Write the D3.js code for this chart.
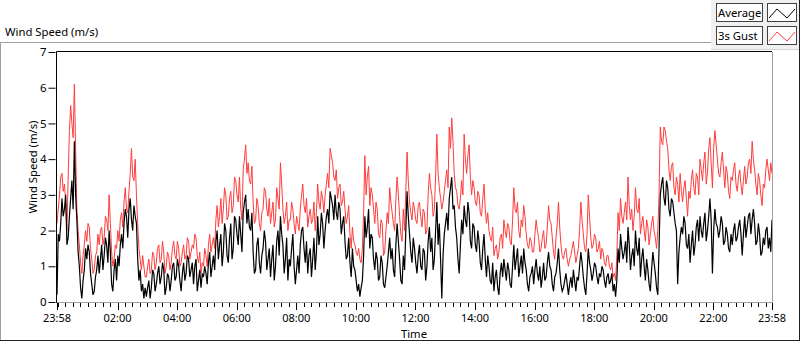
<!DOCTYPE html>
<html lang="en">
<head>
<meta charset="utf-8">
<title>Wind Speed</title>
<script src="https://d3js.org/d3.v7.min.js"></script>
<style>
  body { margin: 0; background: #fff; }
  svg { display: block; font-family: "Noto Sans", "Open Sans", sans-serif; }
</style>
</head>
<body>
<svg id="chart" width="800" height="342"></svg>
<script>
// samples every 2.5 minutes from 23:58 to 23:58 next day, one row per hour
var avgSpeed = [
  0.2,1.9,1.7,2.2,2.9,2.4,2.6,3.0,1.6,1.8,2.4,2.9,3.4,2.6,4.5,3.0,2.3,1.4,1.0,0.4,0.1,0.6,0.9,1.5,
  1.2,1.6,1.4,0.8,0.5,0.2,0.3,0.7,0.9,1.3,0.8,1.2,1.6,0.9,1.3,1.8,1.6,1.1,2.0,1.4,0.5,0.3,0.9,1.2,
  0.6,1.3,1.0,1.6,1.9,1.5,2.2,2.6,2.4,1.8,2.6,2.9,2.3,2.0,2.7,2.4,2.2,1.2,0.6,0.9,0.3,0.5,0.1,0.4,
  0.15,0.4,0.6,0.1,0.4,0.9,0.8,0.3,0.5,0.8,1.0,0.5,0.7,1.1,0.9,0.2,0.4,0.8,0.7,0.3,0.6,1.0,1.1,0.6,
  0.7,1.2,1.0,0.6,0.3,0.8,1.1,0.6,0.8,1.3,1.2,0.7,0.9,1.1,0.5,1.0,1.2,0.3,0.6,0.9,0.4,0.8,0.7,1.0,
  0.8,0.5,1.1,1.4,0.7,1.0,1.3,0.9,1.7,2.0,1.2,1.6,1.9,1.0,1.4,2.2,2.0,1.3,1.1,1.8,2.2,1.2,1.5,2.4,
  2.3,1.9,1.6,2.4,1.9,1.4,2.5,2.8,3.0,2.2,2.6,2.1,2.0,2.5,1.4,0.8,0.9,1.6,1.8,1.1,0.8,1.3,1.5,2.0,
  1.7,0.9,1.2,1.5,0.7,1.2,1.6,0.6,1.0,1.7,2.0,1.3,2.4,1.9,1.6,0.8,1.2,1.8,0.6,1.2,1.0,1.5,1.9,1.0,
  0.5,0.9,1.3,0.8,1.6,2.0,2.1,1.5,1.1,1.7,0.8,1.3,1.5,0.7,1.2,1.8,0.9,1.4,2.4,1.6,1.9,2.5,2.2,1.5,
  2.0,2.4,2.6,2.2,3.1,2.9,2.7,2.3,3.0,2.5,2.3,2.8,2.6,1.9,2.2,2.4,1.7,1.2,1.3,1.8,1.1,0.7,1.5,1.0,
  0.9,0.6,0.3,0.5,0.15,0.4,0.6,1.3,2.4,1.8,2.1,2.6,1.5,1.9,1.8,1.2,0.9,1.4,1.2,0.6,0.7,1.3,1.1,0.5,
  0.4,0.7,1.0,1.4,1.8,1.2,1.5,0.9,0.7,1.6,2.2,1.7,1.2,0.6,0.5,1.3,0.9,2.0,3.1,2.4,1.9,1.4,1.1,1.8,
  1.5,1.1,0.8,1.3,1.6,1.0,0.9,1.5,1.4,0.6,1.0,1.7,2.1,1.4,1.8,0.9,1.2,2.0,2.8,1.6,2.2,1.2,0.1,1.3,
  1.9,2.2,2.5,2.0,2.9,3.2,3.5,2.6,2.7,2.1,1.8,1.2,0.8,1.6,2.3,1.9,2.7,2.3,2.1,2.8,2.5,1.7,1.5,2.2,
  2.1,1.6,1.4,2.0,1.7,1.1,0.9,1.5,1.9,1.2,0.7,1.3,1.0,0.6,0.5,1.1,0.3,0.7,0.9,0.4,0.2,0.8,1.1,0.7,
  1.2,0.9,0.6,1.1,0.9,0.5,0.4,1.0,1.6,0.9,1.2,1.5,0.7,1.0,1.3,0.8,1.5,1.1,0.9,0.5,0.3,0.7,0.8,1.0,
  0.5,0.9,1.2,0.8,0.6,1.0,0.4,0.7,1.1,0.6,0.7,1.1,1.4,1.0,0.9,0.5,0.3,0.7,0.8,1.1,1.5,0.9,0.5,0.3,
  0.4,0.6,0.8,0.5,0.2,0.5,0.7,0.4,0.9,0.6,0.3,0.7,0.6,1.0,1.4,1.1,0.7,0.4,0.2,0.8,1.5,1.1,0.9,0.6,
  0.8,1.1,1.0,0.7,0.5,0.8,0.7,1.0,0.9,0.6,0.4,0.7,0.8,0.5,0.6,0.8,0.3,0.5,0.15,0.6,1.5,1.1,1.9,1.5,
  1.2,1.4,1.7,1.1,2.1,1.6,0.9,1.3,1.5,1.0,2.0,1.5,1.3,1.8,0.7,1.2,1.5,1.0,0.6,1.2,0.9,0.5,0.3,0.9,
  1.4,1.1,0.8,0.4,0.2,1.5,3.0,3.3,3.5,2.9,2.7,3.4,3.2,2.6,2.4,2.9,2.8,2.5,2.2,2.0,0.5,1.4,1.8,2.1,
  1.9,2.4,2.2,1.6,1.5,1.9,1.1,1.6,2.0,1.3,1.6,2.1,2.3,1.7,2.4,2.0,1.8,2.2,2.5,1.7,2.0,2.4,2.9,2.3,
  0.8,2.0,2.6,2.2,2.1,1.8,2.0,2.4,2.2,1.6,1.7,2.1,1.9,1.5,1.4,1.9,1.6,2.0,2.2,1.7,1.8,2.1,2.3,1.9,
  1.3,1.9,2.4,1.8,2.1,2.4,2.5,1.9,2.3,2.6,2.2,1.6,1.7,2.2,1.9,1.3,1.4,1.8,1.6,2.0,2.1,1.5,1.8,1.4,
  2.3
];
var gustSpeed = [
  2.2,2.6,3.0,3.5,3.6,3.1,3.3,2.8,2.0,3.5,4.8,5.5,5.0,4.6,6.1,4.3,2.6,2.0,1.6,1.1,0.8,1.3,1.6,2.0,
  1.7,2.2,2.1,1.5,1.2,0.8,0.9,1.3,1.4,1.9,1.6,2.0,2.1,1.6,1.8,2.4,2.3,2.0,3.0,2.2,1.4,1.0,1.2,1.6,
  1.5,2.0,1.7,2.3,2.5,2.1,2.8,3.2,2.6,2.5,3.1,3.6,4.3,3.5,3.4,4.0,3.0,2.2,1.5,1.2,0.9,1.3,1.0,0.7,
  0.7,1.0,1.2,0.8,0.9,1.4,1.3,0.9,1.1,1.5,1.6,1.1,1.2,1.7,1.4,0.8,1.0,1.4,1.3,0.9,1.1,1.5,1.7,1.3,
  1.2,1.7,1.5,1.0,1.1,1.4,1.6,1.2,1.3,1.8,1.7,1.2,1.4,1.6,1.5,1.9,1.8,1.3,1.1,1.4,0.8,1.1,1.0,1.5,
  1.3,1.0,1.6,1.9,1.4,1.6,1.8,1.5,2.3,2.7,2.1,2.4,2.9,2.2,2.6,3.2,3.0,2.3,2.4,2.9,3.1,2.5,2.7,3.5,
  3.4,3.0,2.8,3.5,2.6,2.3,3.7,4.0,4.4,3.6,3.9,3.4,3.3,3.8,2.8,2.2,2.3,2.9,2.7,2.2,2.0,2.5,2.6,3.2,
  3.1,2.6,2.4,2.9,2.2,2.5,2.8,2.1,2.3,3.2,2.9,2.6,3.9,3.3,2.6,2.2,2.4,2.8,2.0,2.3,2.3,2.8,2.6,2.2,
  1.9,2.4,2.2,2.0,2.6,3.0,3.3,2.7,2.5,2.9,2.1,2.4,2.6,2.2,2.3,2.8,2.0,2.5,3.3,2.8,2.6,3.1,2.9,2.5,
  3.0,3.3,3.6,3.2,4.3,4.1,3.9,3.5,3.4,3.7,2.9,3.2,3.3,2.7,2.8,3.1,2.6,2.2,2.4,2.7,1.9,1.5,2.1,1.7,
  1.6,1.4,1.3,1.5,1.2,1.1,1.5,2.5,4.1,3.0,3.5,3.8,2.7,3.2,3.0,2.6,2.2,2.8,2.6,1.9,1.8,2.3,2.2,1.3,
  1.4,2.0,2.5,2.2,3.2,2.8,2.5,2.2,2.0,2.9,3.5,3.0,2.4,1.9,1.7,2.6,2.0,3.1,4.2,3.4,2.8,2.5,2.3,2.8,
  2.6,2.3,2.2,2.7,2.8,2.4,2.1,2.6,2.5,1.9,2.0,3.0,3.6,3.2,3.0,2.4,2.6,3.5,4.7,3.6,3.2,2.9,2.6,2.8,
  3.1,3.4,3.7,3.2,4.9,4.3,5.15,4.5,3.6,3.2,3.1,2.7,2.6,2.9,3.4,3.0,4.7,4.0,3.6,4.1,4.4,3.5,3.0,3.4,
  3.2,2.8,2.7,3.1,3.0,2.5,2.4,2.9,3.3,2.6,2.2,2.5,2.0,1.8,1.7,2.1,1.3,1.5,1.6,1.2,1.4,1.8,1.9,1.5,
  2.3,2.0,1.8,2.2,2.1,1.7,1.6,2.3,3.2,2.6,2.5,2.8,2.0,1.8,2.3,2.1,2.7,2.4,1.9,1.6,1.5,1.8,1.7,1.4,
  1.4,1.9,2.3,2.0,1.8,1.4,1.5,1.8,2.0,1.5,1.6,2.1,2.7,2.3,2.2,1.8,1.4,1.2,1.8,2.2,2.8,2.1,1.6,1.3,
  1.2,1.4,1.5,1.2,1.0,1.2,1.3,1.5,1.7,1.4,1.1,1.3,1.5,2.0,2.8,2.3,1.9,1.5,1.4,1.9,3.0,2.4,1.8,1.5,
  1.6,1.9,1.8,1.4,1.5,1.7,1.2,1.5,1.4,1.1,1.0,1.3,1.3,1.0,0.9,1.1,0.7,0.8,0.6,1.3,2.5,2.0,2.9,2.4,
  2.2,2.5,2.8,2.3,3.5,2.7,2.3,2.6,2.0,2.4,3.2,2.6,2.5,2.9,1.9,2.2,2.4,2.0,1.7,2.3,2.1,1.6,1.9,2.2,
  2.4,2.0,1.8,1.5,2.0,3.0,4.9,4.5,4.4,4.9,4.8,4.5,4.3,3.7,3.4,3.8,3.9,3.2,3.0,3.5,3.3,2.8,3.6,3.1,
  2.8,3.2,3.4,2.9,2.4,3.1,2.9,3.4,3.7,3.2,3.0,3.6,3.5,3.0,4.0,3.7,3.4,3.9,4.2,3.3,3.6,4.3,4.6,3.9,
  3.2,4.3,4.8,4.4,4.0,3.6,3.5,3.9,4.2,3.7,3.2,3.8,3.6,3.1,2.9,3.5,3.4,3.7,3.9,3.3,3.1,3.5,3.7,3.3,
  3.0,3.4,3.8,3.3,3.5,3.9,4.0,3.6,4.5,4.0,3.7,3.3,3.0,3.6,3.4,3.0,2.7,3.3,3.2,3.7,4.0,3.7,3.4,3.9,
  3.6
];
var seriesNames = ["Average", "3s Gust"];
var seriesColors = ["#000000", "#ff3c3c"];
var yTicks = [0, 1, 2, 3, 4, 5, 6, 7];
var xLabels = ["23:58","02:00","04:00","06:00","08:00","10:00","12:00",
               "14:00","16:00","18:00","20:00","22:00","23:58"];

var svg = d3.select("#chart");
var plot = {left: 57, top: 52, right: 772, bottom: 302};

var t0 = new Date(2020, 0, 1, 23, 58);
var t1 = new Date(2020, 0, 2, 23, 58);
var stepMs = 2.5 * 60000;

var x = d3.scaleTime().domain([t0, t1]).range([plot.left, plot.right]);
var y = d3.scaleLinear().domain([0, 7]).range([plot.bottom, plot.top]);

// outer frame
svg.append("line").attr("x1", 0).attr("x2", 711).attr("y1", 42.5).attr("y2", 42.5).attr("stroke", "#a0a0a0");
svg.append("line").attr("x1", 0.5).attr("x2", 0.5).attr("y1", 42).attr("y2", 341).attr("stroke", "#a0a0a0");
svg.append("line").attr("x1", 0).attr("x2", 800).attr("y1", 340.5).attr("y2", 340.5).attr("stroke", "#202020");
svg.append("line").attr("x1", 799.5).attr("x2", 799.5).attr("y1", 0).attr("y2", 341).attr("stroke", "#202020");

// title
svg.append("text").attr("x", 5).attr("y", 36).attr("font-size", 11.3).text("Wind Speed (m/s)");

// plot area
svg.append("rect").attr("x", plot.left).attr("y", plot.top)
  .attr("width", plot.right - plot.left).attr("height", plot.bottom - plot.top).attr("fill", "#fff");

// y axis
var yAxis = d3.axisLeft(y).tickValues(yTicks).tickSize(7).tickPadding(2).tickFormat(d3.format("d"));
var gy = svg.append("g").attr("transform", "translate(" + (plot.left - 1.5) + ",0)").call(yAxis);
gy.select(".domain").remove();
gy.selectAll("text").attr("font-size", 11.5).attr("font-family", "Noto Sans").attr("fill", "#000");

// x axis: minor ticks every 15 minutes, major every 2 hours
var minor = d3.timeMinute.every(15).range(t0, t1);
var major = [t0].concat(d3.timeHour.every(2).range(new Date(2020, 0, 2, 0, 30), t1)).concat([t1]);
var gx = svg.append("g");
gx.selectAll("line.minor").data(minor).enter().append("line")
  .attr("x1", function(d){ return Math.round(x(d)) + 0.5; })
  .attr("x2", function(d){ return Math.round(x(d)) + 0.5; })
  .attr("y1", plot.bottom + 1).attr("y2", plot.bottom + 5).attr("stroke", "#000");
gx.selectAll("line.major").data(major).enter().append("line")
  .attr("x1", function(d){ return Math.round(x(d)) + 0.5; })
  .attr("x2", function(d){ return Math.round(x(d)) + 0.5; })
  .attr("y1", plot.bottom + 1).attr("y2", plot.bottom + 8).attr("stroke", "#000");
gx.selectAll("text").data(major).enter().append("text")
  .attr("x", function(d){ return x(d); })
  .attr("y", 322).attr("text-anchor", "middle").attr("font-size", 11)
  .text(function(d, i){ return xLabels[i]; });

// series
var line = d3.line()
  .x(function(d, i){ return x(new Date(t0.getTime() + i * stepMs)); })
  .y(function(d){ return y(d); });
svg.append("clipPath").attr("id", "clip").append("rect")
  .attr("x", plot.left).attr("y", plot.top).attr("width", plot.right - plot.left).attr("height", plot.bottom - plot.top);
var lines = svg.append("g").attr("clip-path", "url(#clip)");
lines.append("path").datum(gustSpeed).attr("d", line)
  .attr("fill", "none").attr("stroke", seriesColors[1]).attr("stroke-width", 1);
lines.append("path").datum(avgSpeed).attr("d", line)
  .attr("fill", "none").attr("stroke", seriesColors[0]).attr("stroke-width", 1.2);

// plot border: dark top/left, grey bottom/right
svg.append("line").attr("x1", plot.left - 0.5).attr("x2", plot.right).attr("y1", plot.top - 0.5).attr("y2", plot.top - 0.5).attr("stroke", "#000");
svg.append("line").attr("x1", plot.left - 0.5).attr("x2", plot.left - 0.5).attr("y1", plot.top - 0.5).attr("y2", plot.bottom + 1).attr("stroke", "#000");
svg.append("line").attr("x1", plot.left).attr("x2", plot.right + 1).attr("y1", plot.bottom + 0.5).attr("y2", plot.bottom + 0.5).attr("stroke", "#a0a0a0");
svg.append("line").attr("x1", plot.right + 0.5).attr("x2", plot.right + 0.5).attr("y1", plot.top).attr("y2", plot.bottom + 1).attr("stroke", "#a0a0a0");

// axis titles
svg.append("text").attr("x", 414).attr("y", 338).attr("text-anchor", "middle").attr("font-size", 11.3).text("Time");
svg.append("text").attr("transform", "translate(37,167) rotate(-90)")
  .attr("text-anchor", "middle").attr("font-size", 11.3).text("Wind Speed (m/s)");

// legend
var lg = svg.append("g");
lg.append("rect").attr("x", 711).attr("y", 0).attr("width", 88).attr("height", 49).attr("fill", "#f0f0f0");
lg.append("line").attr("x1", 711).attr("x2", 799).attr("y1", 49.5).attr("y2", 49.5).attr("stroke", "#d4d4d4");
seriesNames.forEach(function(name, i) {
  var top = 3 + i * 23;
  lg.append("rect").attr("x", 716.5).attr("y", top + 0.5).attr("width", 46).attr("height", 18)
    .attr("fill", "#fff").attr("stroke", "#404040");
  lg.append("text").attr("x", 718).attr("y", top + 14).attr("font-size", 11.3).text(name);
  lg.append("rect").attr("x", 767.5).attr("y", top + 0.5).attr("width", 29).attr("height", 18)
    .attr("fill", "#fff").attr("stroke", "#404040");
  var zig = [[769, top + 15], [777, top + 6], [787, top + 15], [795, top + 6]];
  lg.append("path").attr("d", d3.line()(zig)).attr("fill", "none").attr("stroke", seriesColors[i]);
});
</script>
</body>
</html>
